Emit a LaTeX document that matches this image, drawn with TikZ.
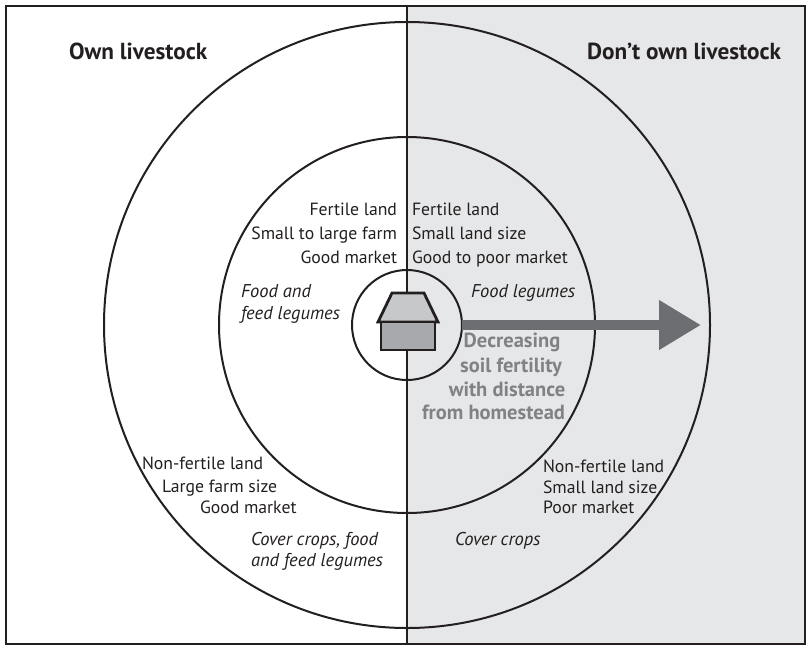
\documentclass[tikz,border=0pt]{standalone}
\usepackage{fontspec}
\setmainfont{PT Sans}
\usetikzlibrary{arrows.meta}
\definecolor{ink}{HTML}{231F20}
\definecolor{halfgray}{HTML}{E6E7E8}
\definecolor{roof}{HTML}{C7C8CA}
\definecolor{housebody}{HTML}{A7A9AC}
\definecolor{arrowgray}{HTML}{6D6E71}
\definecolor{txtgray}{HTML}{808285}
\begin{document}
\begin{tikzpicture}[x=1pt,y=-1pt,
  every node/.style={inner sep=0pt, outer sep=0pt, text=ink},
  lbl/.style={font=\fontsize{17.7}{24}\selectfont},
  lbli/.style={font=\fontsize{18.5}{22}\selectfont\itshape},
  head/.style={font=\fontsize{23.2}{26}\selectfont\bfseries},
  grayt/.style={font=\fontsize{20.5}{24}\selectfont\bfseries, text=txtgray},
  ring/.style={draw=ink, line width=2pt},
  houseline/.style={draw=ink, line width=2.8pt, line join=miter}
]
\useasboundingbox (0,0) rectangle (808,646);
\fill[halfgray] (407,6) rectangle (805,644);
\draw[ink, line width=2pt] (6,6) rectangle (805,644);
\draw[ink, line width=1.6pt] (407,6) -- (407,644);
\draw[ring] (407,325) circle[radius=303pt];
\draw[ring] (407,325) circle[radius=188pt];
\node[ring, circle, minimum size=110pt] (home) at (407,325) {};
\coordinate (tip) at (701,325);
\draw[arrowgray, line width=10.5pt, -{Triangle[length=42pt,width=47pt]}] (home.east) -- (tip);
% house
\draw[houseline, fill=roof] (392,293) -- (424,293) -- (438,322) -- (378,322) -- cycle;
\draw[houseline, fill=housebody] (381,322) rectangle (435,350);
% headings
\node[head, anchor=base west] (own) at (69,59) {Own livestock};
\node[head, anchor=base east] (notown) at (781,59) {Don’t own livestock};
% inner left
\node[lbl, anchor=base east] (il1) at (397,215) {Fertile land};
\node[lbl, anchor=base east] (il2) at (397,239) {Small to large farm};
\node[lbl, anchor=base east] (il3) at (397,263) {Good market};
\node[lbli, anchor=base west] (il4) at (241,297) {Food and};
\node[lbli, anchor=base west] (il5) at (241,319) {feed legumes};
% inner right
\node[lbl, anchor=base west] (ir1) at (412,215) {Fertile land};
\node[lbl, anchor=base west] (ir2) at (412,239) {Small land size};
\node[lbl, anchor=base west] (ir3) at (412,263) {Good to poor market};
\node[lbli, anchor=base west] (ir4) at (471,297) {Food legumes};
% gray text
\node[grayt, anchor=base] (g1) at (512,347) {Decreasing};
\node[grayt, anchor=base] (g2) at (511,372) {soil fertility};
\node[grayt, anchor=base] (g3) at (507,396) {with distance};
\node[grayt, anchor=base] (g4) at (493.5,419) {from homestead};
% outer left
\node[lbl, anchor=base west] (ol1) at (142,469) {Non-fertile land};
\node[lbl, anchor=base west] (ol2) at (162,492) {Large farm size};
\node[lbl, anchor=base west] (ol3) at (200,513) {Good market};
\node[lbli, anchor=base west] (ol4) at (251,545) {Cover crops, food};
\node[lbli, anchor=base west] (ol5) at (251,566) {and feed legumes};
% outer right
\node[lbl, anchor=base west] (or1) at (543,472) {Non-fertile land};
\node[lbl, anchor=base west] (or2) at (543,493) {Small land size};
\node[lbl, anchor=base west] (or3) at (543,513) {Poor market};
\node[lbli, anchor=base west] (or4) at (455,545) {Cover crops};
\end{tikzpicture}
\end{document}
